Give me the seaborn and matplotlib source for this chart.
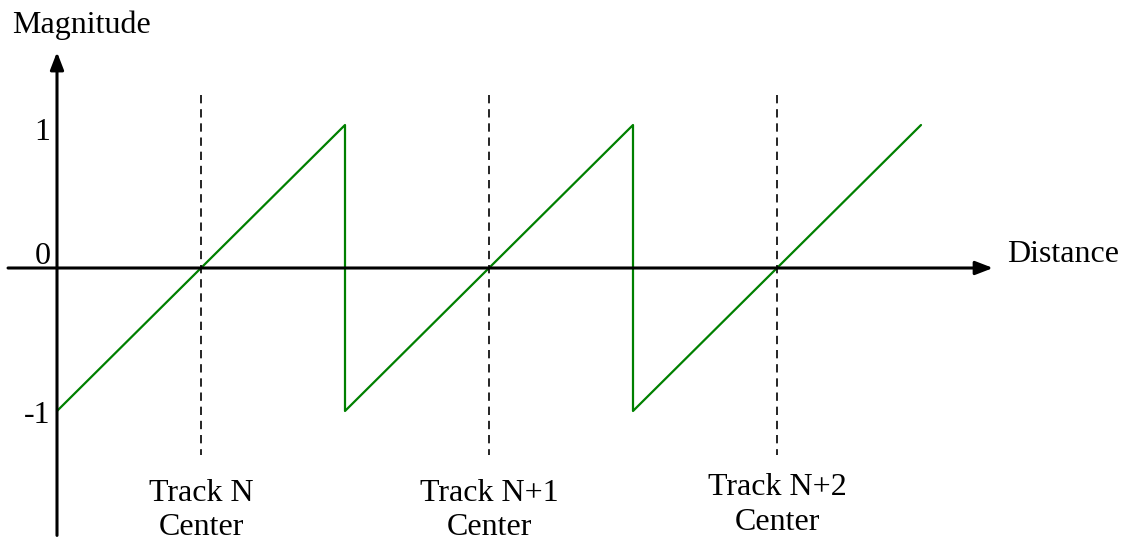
import matplotlib
matplotlib.use("Agg")
import matplotlib.pyplot as plt
import seaborn as sns
import pandas as pd

# sawtooth signal: magnitude vs distance
distance = [0, 2, 2, 4, 4, 6]
magnitude = [-1, 1, -1, 1, -1, 1]

track_centers = [1, 3, 5]
track_names = ["Track N", "Track N+1", "Track N+2"]
tick_values = [1, 0, -1]
tick_labels = ["1", "0", "-1"]

sns.set_style("white")
plt.rcParams['font.family'] = ['Liberation Serif', 'DejaVu Serif']
plt.rcParams['text.color'] = 'black'

fig = plt.figure(figsize=(11.26, 5.4), dpi=100)
ax = fig.add_axes([0, 0, 1, 1])
ax.set_xlim(-57 / 144, (1126 - 57) / 144)
ax.set_ylim(-272 / 143, 268 / 143)
ax.axis('off')

df = pd.DataFrame({"Distance": distance, "Magnitude": magnitude})
sns.lineplot(data=df, x="Distance", y="Magnitude", sort=False, estimator=None,
             color="#008000", lw=1.6, ax=ax)

# axes with arrow heads
arrow = dict(arrowstyle='-|>,head_length=0.7,head_width=0.27', color='black', lw=2.2,
             mutation_scale=15, shrinkA=0, shrinkB=0)
ax.annotate("", xy=(0, 1.51), xytext=(0, -1.87), arrowprops=arrow)
ax.annotate("", xy=(6.5, 0), xytext=(-0.34, 0), arrowprops=arrow)

fs = 23
ax.text(-0.3125, 1.643, "Magnitude", fontsize=fs, ha='left', va='baseline')
ax.text(6.597, 0.042, "Distance", fontsize=fs, ha='left', va='baseline')

tick_y = [0.895, 0.028, -1.084]
for ty, lab in zip(tick_y, tick_labels):
    ax.text(-0.045, ty, lab, fontsize=fs, ha='right', va='baseline')

# track center markers
name_base = [-1.629, -1.629, -1.587]
center_base = [-1.867, -1.867, -1.832]
for xc, name, b1, b2 in zip(track_centers, track_names, name_base, center_base):
    ax.plot([xc, xc], [1.21, -1.31], color='black', lw=1.2, ls=(0, (5, 3.5)))
    ax.text(xc, b1, name, fontsize=fs, ha='center', va='baseline')
    ax.text(xc, b2, "Center", fontsize=fs, ha='center', va='baseline')

fig.savefig("out.png", dpi=100)
